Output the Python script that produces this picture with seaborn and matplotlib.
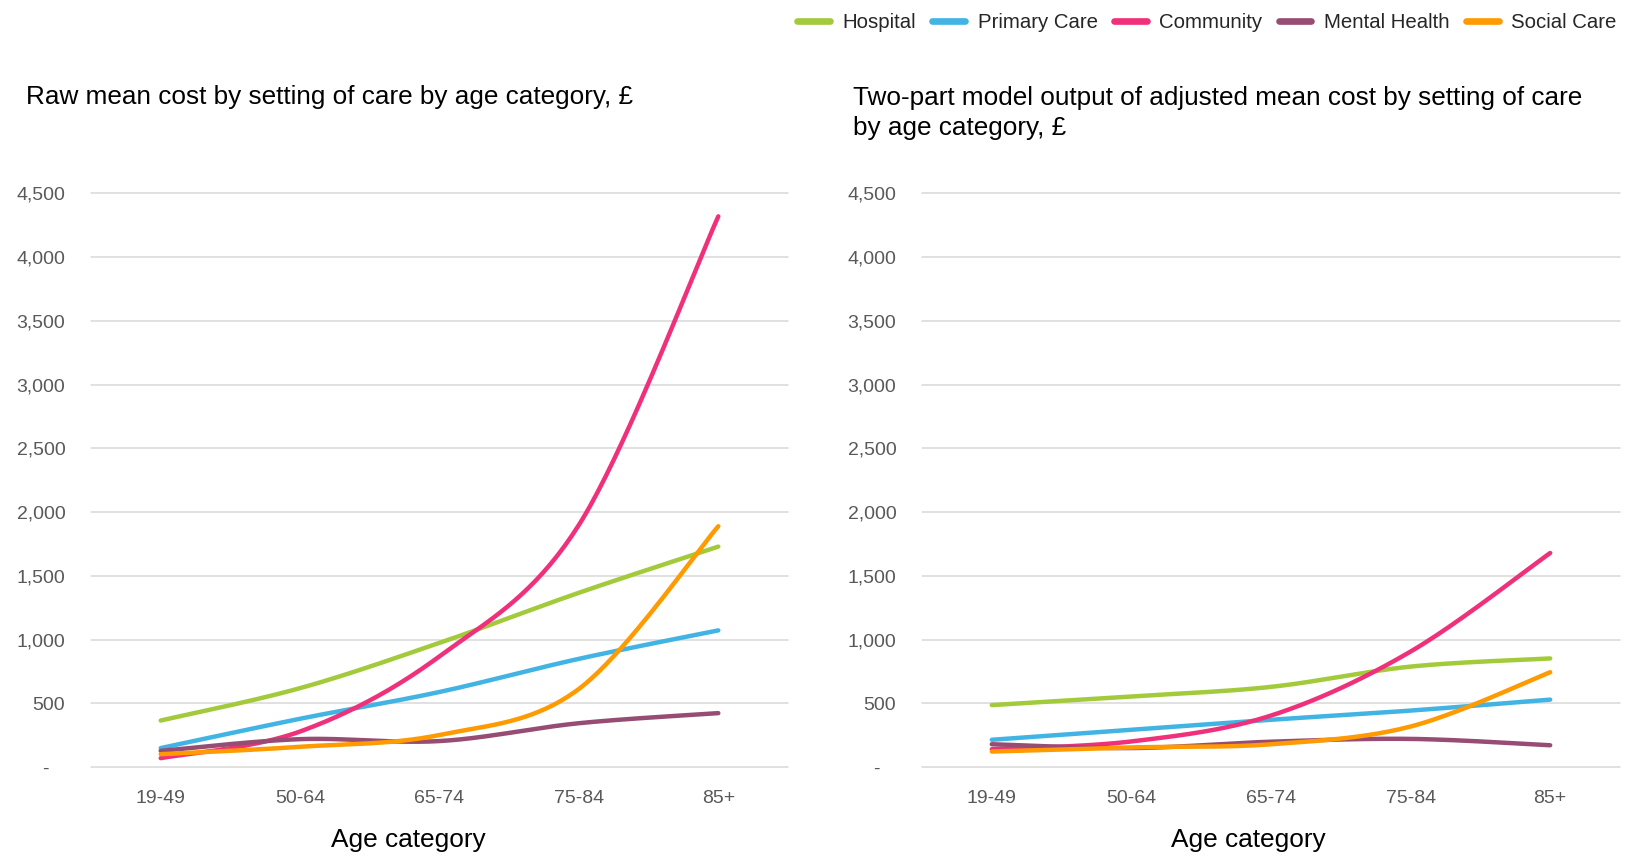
import numpy as np
import pandas as pd
import matplotlib
matplotlib.use("Agg")
import matplotlib.pyplot as plt
from matplotlib.ticker import FuncFormatter
from matplotlib.lines import Line2D
import seaborn as sns

# Age bands on the x axis
age_categories = ["19-49", "50-64", "65-74", "75-84", "85+"]
settings = ["Hospital", "Primary Care", "Community", "Mental Health", "Social Care"]

# Raw mean cost (£) by setting of care
raw_hospital = [366, 620, 975, 1368, 1730]
raw_primary = [150, 380, 590, 850, 1073]
raw_community = [71, 280, 870, 1900, 4320]
raw_mental = [128, 220, 205, 345, 424]
raw_social = [102, 160, 253, 614, 1890]

# Two-part model adjusted mean cost (£) by setting of care
adj_hospital = [487, 555, 630, 789, 853]
adj_primary = [215, 293, 372, 444, 530]
adj_community = [141, 202, 405, 907, 1680]
adj_mental = [180, 150, 200, 222, 172]
adj_social = [123, 155, 180, 319, 745]

colors = {
    "Hospital": "#A2CA3B",
    "Primary Care": "#41B4E4",
    "Community": "#F0307A",
    "Mental Health": "#964C73",
    "Social Care": "#FF9A00",
}


def smooth(xs, ys, n=40):
    """Bezier smoothing through the points (Catmull-Rom style control points)."""
    p = np.column_stack([xs, ys]).astype(float)
    ext = np.vstack([p[0], p, p[-1]])
    out = []
    t = np.linspace(0, 1, n)[:, None]
    for i in range(len(p) - 1):
        p0, p3 = ext[i + 1], ext[i + 2]
        c1 = p0 + (ext[i + 2] - ext[i]) / 6.0
        c2 = p3 - (ext[i + 3] - ext[i + 1]) / 6.0
        seg = ((1 - t) ** 3) * p0 + 3 * ((1 - t) ** 2) * t * c1 + 3 * (1 - t) * t ** 2 * c2 + t ** 3 * p3
        out.append(seg if i == 0 else seg[1:])
    pts = np.vstack(out)
    return pts[:, 0], pts[:, 1]


def long_frame(series):
    rows = []
    xs = np.arange(len(age_categories))
    for name, vals in zip(settings, series):
        sx, sy = smooth(xs, vals)
        rows.append(pd.DataFrame({"x": sx, "cost": sy, "setting": name}))
    return pd.concat(rows, ignore_index=True)


raw_df = long_frame([raw_hospital, raw_primary, raw_community, raw_mental, raw_social])
adj_df = long_frame([adj_hospital, adj_primary, adj_community, adj_mental, adj_social])

sns.set_theme(style="white")
plt.rcParams["font.family"] = ["Liberation Sans", "DejaVu Sans"]

fig = plt.figure(figsize=(16.3, 8.56), dpi=100)
ax1 = fig.add_axes([91 / 1630, 1 - 767.2 / 856, 697 / 1630, 573.8 / 856])
ax2 = fig.add_axes([922 / 1630, 1 - 767.2 / 856, 698 / 1630, 573.8 / 856])


def fmt(v, _):
    return "-   " if abs(v) < 1e-9 else f"{v:,.0f}"


for ax, df, xlab_pos in [(ax1, raw_df, 0.4555), (ax2, adj_df, 0.4678)]:
    sns.lineplot(data=df, x="x", y="cost", hue="setting", hue_order=settings,
                 palette=colors, sort=False, estimator=None, units="setting",
                 linewidth=3.2, ax=ax, legend=False, solid_capstyle="round")
    ax.set_xlim(-0.5, 4.5)
    ax.set_ylim(0, 4500)
    ax.set_yticks(np.arange(0, 4501, 500))
    ax.yaxis.set_major_formatter(FuncFormatter(fmt))
    ax.set_xticks(range(len(age_categories)))
    ax.set_xticklabels(age_categories)
    ax.grid(axis="y", color="#D9D9D9", linewidth=1.1)
    ax.set_axisbelow(True)
    for s in ax.spines.values():
        s.set_visible(False)
    ax.tick_params(axis="both", length=0, labelsize=14, labelcolor="#595959")
    ax.tick_params(axis="y", pad=18.5)
    ax.tick_params(axis="x", pad=16.5)
    ax.set_ylabel("")
    ax.set_xlabel("Age category", fontsize=18.9, color="#000000", labelpad=15)
    ax.xaxis.label.set_x(xlab_pos)
    for gl in ax.get_ygridlines():
        gl.set_clip_on(False)

fig.text(26 / 1630, 1 - 104 / 856, "Raw mean cost by setting of care by age category, £",
         fontsize=18.8, ha="left", va="baseline", color="#000000")
# multi-line text: baseline refers to the last line
fig.text(853 / 1630, 1 - 134.5 / 856,
         "Two-part model output of adjusted mean cost by setting of care\nby age category, £",
         fontsize=18.8, ha="left", va="baseline", color="#000000", linespacing=1.29)

handles = [Line2D([0], [0], color=colors[s], lw=4.8) for s in settings]
fig.legend(handles, settings, loc="upper right", bbox_to_anchor=(1.0, 1.0),
           ncol=5, frameon=False, fontsize=14.7, handlelength=1.6,
           handletextpad=0.62, columnspacing=0.8, borderaxespad=0.25)

fig.savefig("out.png", dpi=100)
